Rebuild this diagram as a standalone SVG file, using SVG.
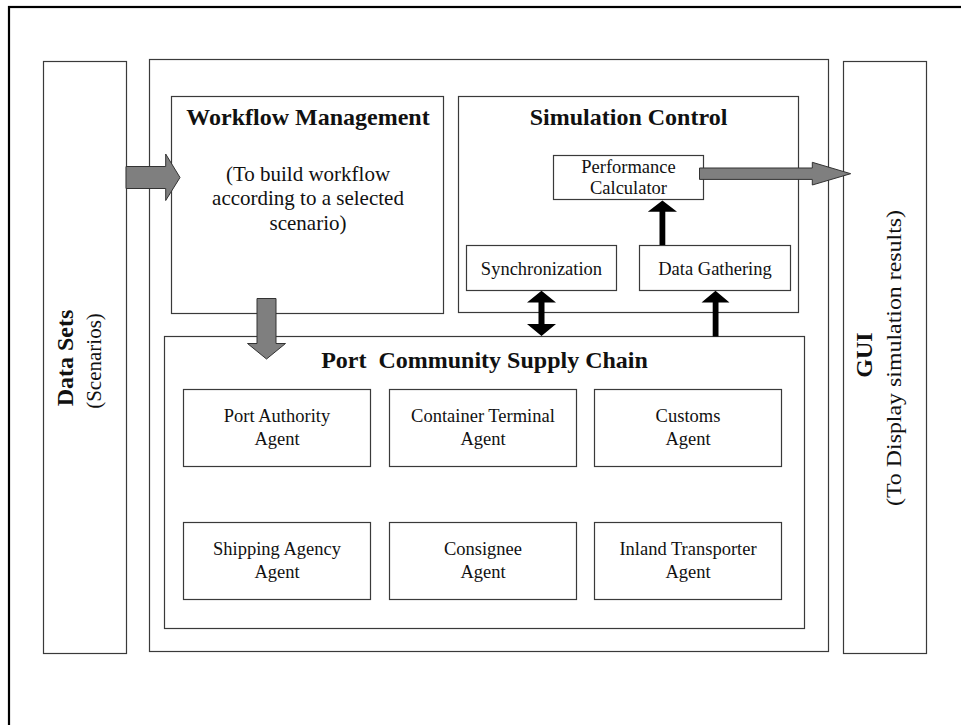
<svg xmlns="http://www.w3.org/2000/svg" width="961" height="725" viewBox="0 0 961 725">
  <style>
    .box { fill: none; stroke: #3a3a3a; stroke-width: 1.2; }
    .frame { fill: none; stroke: #000; stroke-width: 2.2; }
    .garrow { fill: #7f7f7f; stroke: #333; stroke-width: 1; stroke-linejoin: miter; }
    .barrow { fill: #000; stroke: none; }
    text { font-family: "Liberation Serif", "Times New Roman", serif; fill: #111; text-anchor: middle; }
    .title { font-size: 24px; font-weight: bold; }
    .sub { font-size: 21px; }
    .small { font-size: 18.5px; }
  </style>

  <rect width="961" height="725" fill="#fff"/>

  <!-- outer frame (right and bottom edges run off the page) -->
  <rect class="frame" x="9" y="7" width="970" height="740"/>

  <!-- left column: data sets -->
  <g id="data-sets">
    <rect class="box" x="43.5" y="61.5" width="83" height="592"/>
    <text class="title" transform="translate(73,358) rotate(-90)">Data Sets</text>
    <text class="sub" transform="translate(100.5,361) rotate(-90)" font-size="21.5">(Scenarios)</text>
  </g>

  <!-- central container -->
  <g id="system">
    <rect class="box" x="149.5" y="59.5" width="679" height="592"/>
  </g>

  <!-- right column: GUI -->
  <g id="gui">
    <rect class="box" x="843.5" y="61.5" width="83" height="592"/>
    <text class="title" transform="translate(872,355) rotate(-90)" font-size="23.5">GUI</text>
    <text class="sub" transform="translate(901,358) rotate(-90)" textLength="296" lengthAdjust="spacingAndGlyphs">(To Display simulation results)</text>
  </g>

  <g id="workflow-management">
    <rect class="box" x="171.5" y="96.5" width="272" height="217"/>
    <text class="title" x="308" y="125">Workflow Management</text>
    <text class="sub" x="308" y="180.5">(To build workflow</text>
    <text class="sub" x="308" y="205">according to a selected</text>
    <text class="sub" x="308" y="229.5">scenario)</text>
  </g>

  <g id="simulation-control">
    <rect class="box" x="458.5" y="96.5" width="340" height="216"/>
    <text class="title" x="628.5" y="125">Simulation Control</text>
  </g>

  <g id="performance-calculator">
    <rect class="box" x="553.5" y="155.5" width="150" height="44"/>
    <text class="small" x="628.5" y="172.5">Performance</text>
    <text class="small" x="628.5" y="193.5">Calculator</text>
  </g>

  <g id="synchronization">
    <rect class="box" x="466.5" y="245.5" width="150" height="45"/>
    <text class="small" x="541.5" y="275">Synchronization</text>
  </g>

  <g id="data-gathering">
    <rect class="box" x="639.5" y="245.5" width="151" height="45"/>
    <text class="small" x="715" y="275">Data Gathering</text>
  </g>

  <g id="port-community-supply-chain">
    <rect class="box" x="164.5" y="336.5" width="640" height="292"/>
    <text class="title" x="484.5" y="368" xml:space="preserve">Port  Community Supply Chain</text>
  </g>

  <g id="port-authority-agent">
    <rect class="box" x="183.5" y="389.5" width="187" height="77"/>
    <text class="small" x="277" y="422">Port Authority</text>
    <text class="small" x="277" y="445">Agent</text>
  </g>
  <g id="container-terminal-agent">
    <rect class="box" x="389.5" y="389.5" width="187" height="77"/>
    <text class="small" x="483" y="422">Container Terminal</text>
    <text class="small" x="483" y="445">Agent</text>
  </g>
  <g id="customs-agent">
    <rect class="box" x="594.5" y="389.5" width="187" height="77"/>
    <text class="small" x="688" y="422">Customs</text>
    <text class="small" x="688" y="445">Agent</text>
  </g>
  <g id="shipping-agency-agent">
    <rect class="box" x="183.5" y="522.5" width="187" height="77"/>
    <text class="small" x="277" y="555">Shipping Agency</text>
    <text class="small" x="277" y="578">Agent</text>
  </g>
  <g id="consignee-agent">
    <rect class="box" x="389.5" y="522.5" width="187" height="77"/>
    <text class="small" x="483" y="555">Consignee</text>
    <text class="small" x="483" y="578">Agent</text>
  </g>
  <g id="inland-transporter-agent">
    <rect class="box" x="594.5" y="522.5" width="187" height="77"/>
    <text class="small" x="688" y="555">Inland Transporter</text>
    <text class="small" x="688" y="578">Agent</text>
  </g>

  <!-- connectors -->
  <g id="connectors">
    <!-- data sets -> workflow management -->
    <polygon class="garrow" points="126,166.5 165.7,166.5 165.7,154 180,177.5 165.7,200.5 165.7,188.5 126,188.5"/>
    <!-- workflow management -> supply chain -->
    <polygon class="garrow" points="257,298.5 276,298.5 276,343.5 285.5,343.5 266.5,359 247.5,343.5 257,343.5"/>
    <!-- performance calculator -> GUI -->
    <polygon class="garrow" points="699.5,168 812.3,168 812.3,162.3 850.7,173.7 812.3,185 812.3,179.4 699.5,179.4"/>
    <!-- data gathering -> performance calculator -->
    <polygon class="barrow" points="659.5,245 665.3,245 665.3,211.7 677,211.7 662.4,200.5 647.8,211.7 659.5,211.7"/>
    <!-- synchronization <-> supply chain -->
    <polygon class="barrow" points="541.5,290.8 556,302.5 544.5,302.5 544.5,324 556,324 541.5,336 527,324 538.5,324 538.5,302.5 527,302.5"/>
    <!-- supply chain -> data gathering -->
    <polygon class="barrow" points="712.7,336.5 718.5,336.5 718.5,302.5 729.5,302.5 715.5,290.8 701.5,302.5 712.7,302.5"/>
  </g>
</svg>
